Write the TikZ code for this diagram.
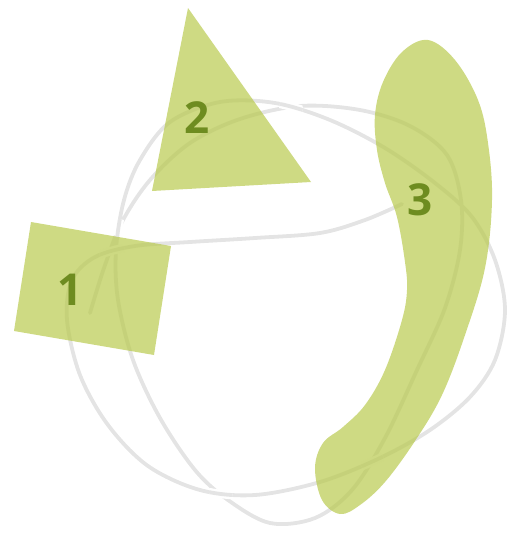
\documentclass[tikz,border=0pt]{standalone}
\usepackage{fontspec}
\setmainfont{Open Sans}
\definecolor{leaf}{RGB}{185,202,78}
\definecolor{labelgreen}{RGB}{110,140,32}
\definecolor{strand}{RGB}{228,228,228}
\tikzset{
  shapefill/.style={fill=leaf, fill opacity=0.7, draw=none},
  strandline/.style={draw=strand, line width=3.8pt, line cap=round, line join=round},
  gapline/.style={draw=white, line width=8.5pt},
  numlabel/.style={text=labelgreen, font=\fontsize{44}{44}\selectfont\bfseries, inner sep=0pt}
}
\begin{document}
\begin{tikzpicture}[x=1pt,y=-1pt]
\useasboundingbox (0,0) rectangle (510,536);
% grey curve, one stroke from shape 1 to shape 3
\draw[strandline] plot[smooth, tension=0.55] coordinates {
 (90,313) (104,268) (122,222) (150,180) (190,143) (240,119) (300,106) (360,110) (410,126)
 (447,155) (461,200) (460,250) (445,308) (417,370) (385,438) (352,490) (315,518) (270,523)
 (228,500) (195,470) (160,418) (133,360) (118,300) (116,250) (124,200) (140,160) (170,122)
 (220,102) (275,103) (330,120) (385,148) (435,183) (472,217) (495,260) (505,310) (495,360)
 (470,397) (430,430) (380,458) (320,482) (255,495) (200,490) (148,466) (108,425) (80,375)
 (67,320) (72,280) (95,257) (135,246) (190,242) (255,238) (320,233) (365,220) (402,204)};
% crossings: the strand on top is redrawn with a white gap around it
\begin{scope}
 \clip (291,108) circle (12pt);
 \draw[gapline] plot[smooth, tension=0.55] coordinates {(170,122) (220,102) (275,103) (330,120) (385,148)};
 \draw[strandline] plot[smooth, tension=0.55] coordinates {(170,122) (220,102) (275,103) (330,120) (385,148)};
\end{scope}
\begin{scope}
 \clip (119.5,228) circle (9pt);
 \draw[gapline] plot[smooth, tension=0.55] coordinates {(133,360) (118,300) (116,250) (124,200) (140,160)};
 \draw[strandline] plot[smooth, tension=0.55] coordinates {(133,360) (118,300) (116,250) (124,200) (140,160)};
\end{scope}
\begin{scope}
 \clip (372,461) circle (12pt);
 \draw[gapline] plot[smooth, tension=0.55] coordinates {(470,397) (430,430) (380,458) (320,482) (255,495)};
 \draw[strandline] plot[smooth, tension=0.55] coordinates {(470,397) (430,430) (380,458) (320,482) (255,495)};
\end{scope}
\begin{scope}
 \clip (221,492) circle (12pt);
 \draw[gapline] plot[smooth, tension=0.55] coordinates {(380,458) (320,482) (255,495) (200,490) (148,466)};
 \draw[strandline] plot[smooth, tension=0.55] coordinates {(380,458) (320,482) (255,495) (200,490) (148,466)};
\end{scope}
\begin{scope}
 \clip (112,252) circle (13pt);
 \draw[gapline] plot[smooth, tension=0.55] coordinates {(67,320) (72,280) (95,257) (135,246) (190,242)};
 \draw[strandline] plot[smooth, tension=0.55] coordinates {(67,320) (72,280) (95,257) (135,246) (190,242)};
\end{scope}
% shapes
\path[shapefill] (31,222) -- (171,246) -- (154,355) -- (14,331) -- cycle;
\path[shapefill] (188,8) -- (311,182) -- (152,191) -- cycle;
\path[shapefill] plot[smooth cycle, tension=0.6] coordinates {
 (428,40) (455,60) (478,100) (488,143) (492,200) (485,268) (465,335) (442,395) (415,441)
 (385,482) (360,505) (340,514) (322,500) (315,468) (323,443) (343,427) (365,405) (385,370)
 (402,320) (407,290) (405,262) (397,217) (385,183) (377,150) (375,115) (383,82) (402,52)};
% labels
\node[numlabel] (n1) at (70,290) {1};
\node[numlabel] (n2) at (197,118) {2};
\node[numlabel] (n3) at (420,200) {3};
\end{tikzpicture}
\end{document}
